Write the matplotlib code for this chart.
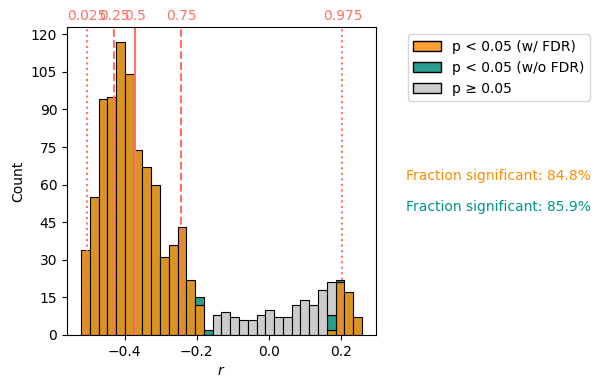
import numpy as np
import matplotlib
matplotlib.use('Agg')
import matplotlib.pyplot as plt
from matplotlib.patches import Patch
from matplotlib.ticker import MultipleLocator

# histogram bins of r (32 bins)
bin_start = -0.5203
bin_width = 0.02429
n_bins = 32

# counts per bin
sig_fdr = [34, 55, 94, 95, 117, 104, 74, 67, 60, 31, 36, 43, 22, 12, 0, 0,
           0, 0, 0, 0, 0, 0, 0, 0, 0, 0, 0, 0, 2, 21, 17, 7]
sig_nofdr = [0, 0, 0, 0, 0, 0, 0, 0, 0, 0, 0, 0, 0, 3, 2, 0,
             0, 0, 0, 0, 0, 0, 0, 0, 0, 0, 0, 0, 6, 1, 0, 0]
not_sig = [0, 0, 0, 0, 0, 0, 0, 0, 0, 0, 0, 0, 0, 0, 0, 8,
           9, 7, 6, 6, 8, 10, 7, 7, 12, 14, 12, 18, 13, 0, 0, 0]

quant_labels = ['0.025', '0.25', '0.5', '0.75', '0.975']
quant_vals = [-0.503, -0.4284, -0.3705, -0.2436, 0.2033]
quant_styles = [':', '--', '-', '--', ':']

frac_fdr = 84.8
frac_nofdr = 85.9

c_fdr_bar = '#d99423'
c_fdr_leg = '#f9a031'
c_teal = '#2a9d8f'
c_gray = '#cccccc'
c_q = '#ff7066'

edges = bin_start + bin_width * np.arange(n_bins)
a = np.array(sig_fdr)
b = np.array(sig_nofdr)
c = np.array(not_sig)

fig = plt.figure(figsize=(6.01, 3.88), dpi=100)
ax = fig.add_axes([0.1115, 0.1366, 0.514, 0.7934])

ax.bar(edges, a, width=bin_width, align='edge', color=c_fdr_bar, edgecolor='black', linewidth=0.8)
ax.bar(edges, b, width=bin_width, align='edge', bottom=a, color=c_teal, edgecolor='black', linewidth=0.8)
ax.bar(edges, c, width=bin_width, align='edge', bottom=a + b, color=c_gray, edgecolor='black', linewidth=0.8)

# remove empty bars' edges
for p in ax.patches:
    if p.get_height() == 0:
        p.set_visible(False)

for lab, v, ls in zip(quant_labels, quant_vals, quant_styles):
    ax.axvline(v, color=c_q, linestyle=ls, linewidth=1.5)
    ax.text(v, 1.012, lab, color=c_q, ha='center', va='bottom', fontsize=10,
            transform=ax.get_xaxis_transform())

ytop = (a + b + c).max()
ax.set_ylim(0, ytop * 1.05)
ax.yaxis.set_major_locator(MultipleLocator(15))
ax.set_xlabel('$r$')
ax.set_ylabel('Count')

handles = [Patch(facecolor=c_fdr_leg, edgecolor='black', label='p < 0.05 (w/ FDR)'),
           Patch(facecolor=c_teal, edgecolor='black', label='p < 0.05 (w/o FDR)'),
           Patch(facecolor=c_gray, edgecolor='black', label='p ≥ 0.05')]
ax.legend(handles=handles, loc='upper left', bbox_to_anchor=(1.08, 1.0))

ax.text(1.097, 0.516, 'Fraction significant: %.1f%%' % frac_fdr, color='#ff8c00',
        transform=ax.transAxes, va='center', ha='left', fontsize=10)
ax.text(1.097, 0.416, 'Fraction significant: %.1f%%' % frac_nofdr, color='#009688',
        transform=ax.transAxes, va='center', ha='left', fontsize=10)

fig.savefig('out.png', dpi=100)
